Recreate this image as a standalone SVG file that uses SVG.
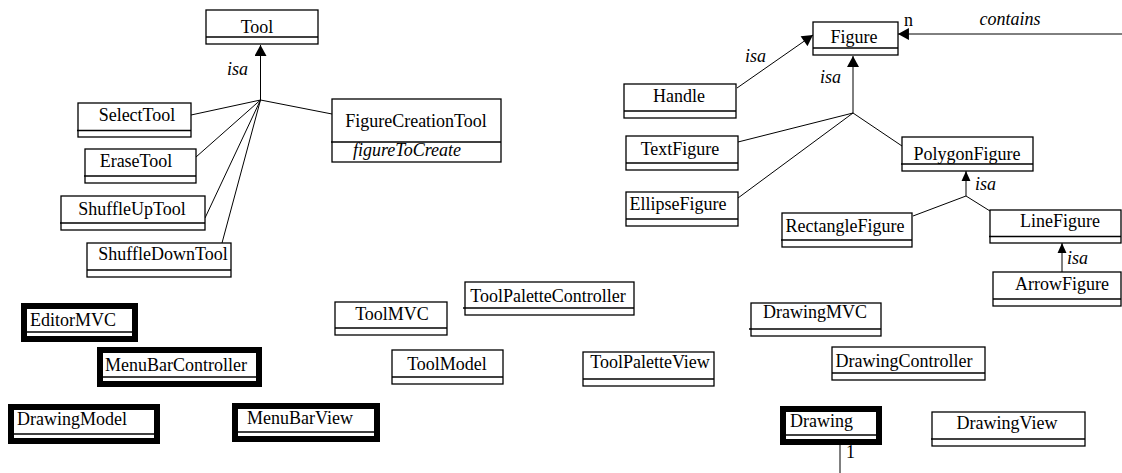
<svg xmlns="http://www.w3.org/2000/svg" width="1122" height="473" viewBox="0 0 1122 473">
  <style>
    .box { fill: #fff; stroke: #000; stroke-width: 1.3; }
    .thick { fill: #fff; stroke: #000; stroke-width: 6; }
    .div { stroke: #000; stroke-width: 1.3; }
    .lbl { font-family: "Liberation Serif", "Times New Roman", serif; font-size: 18px; fill: #000; text-anchor: middle; }
    .lft { text-anchor: start; }
    .it { font-family: "Liberation Serif", "Times New Roman", serif; font-size: 18px; font-style: italic; fill: #000; }
    .edge { stroke: #000; stroke-width: 1; fill: none; }
  </style>
  <defs>
    <marker id="head" markerUnits="userSpaceOnUse" markerWidth="12" markerHeight="12" viewBox="0 0 10 11" refX="10" refY="5.5" orient="auto">
      <path d="M0,0 L10,5.5 L0,11 Z" fill="#000"/>
    </marker>
    <marker id="headSmall" markerUnits="userSpaceOnUse" markerWidth="10" markerHeight="10" viewBox="0 0 9 8" refX="9" refY="4" orient="auto">
      <path d="M0,0 L9,4 L0,8 Z" fill="#000"/>
    </marker>
  </defs>

  <!-- connectors -->
  <g id="connectors">
    <line class="edge" x1="260.5" y1="100" x2="260.5" y2="45" marker-end="url(#head)"/>
    <line class="edge" x1="260.5" y1="100" x2="191" y2="115"/>
    <line class="edge" x1="260.5" y1="100" x2="196" y2="157"/>
    <line class="edge" x1="260.5" y1="100" x2="205" y2="218"/>
    <line class="edge" x1="260.5" y1="100" x2="222" y2="243"/>
    <line class="edge" x1="260.5" y1="100" x2="332" y2="114"/>

    <line class="edge" x1="737" y1="88" x2="813" y2="35" marker-end="url(#head)"/>
    <line class="edge" x1="853" y1="113" x2="853" y2="56" marker-end="url(#head)"/>
    <line class="edge" x1="853" y1="113" x2="738" y2="142"/>
    <line class="edge" x1="853" y1="113" x2="738" y2="198"/>
    <line class="edge" x1="853" y1="113" x2="902" y2="146"/>
    <line class="edge" x1="1122" y1="34" x2="898" y2="34" marker-end="url(#head)"/>

    <line class="edge" x1="966" y1="196" x2="966" y2="171" marker-end="url(#headSmall)"/>
    <line class="edge" x1="966" y1="196" x2="913" y2="216"/>
    <line class="edge" x1="966" y1="196" x2="990" y2="211"/>
    <line class="edge" x1="1062" y1="272" x2="1062" y2="243" marker-end="url(#headSmall)"/>

    <line class="edge" x1="840" y1="445" x2="840" y2="473"/>

    <text class="it" x="227" y="75">isa</text>
    <text class="it" x="745" y="62">isa</text>
    <text class="it" x="820" y="83">isa</text>
    <text class="it" x="975" y="190">isa</text>
    <text class="it" x="1067" y="264">isa</text>
    <text class="it" x="1010" y="25" text-anchor="middle">contains</text>
    <text class="lbl lft" x="904" y="26">n</text>
    <text class="lbl lft" x="846" y="458">1</text>
  </g>

  <!-- tool hierarchy -->
  <g id="Tool">
    <rect class="box" x="206" y="10" width="112" height="34"/>
    <line class="div" x1="206" y1="37" x2="318" y2="37"/>
    <text class="lbl" x="257" y="33">Tool</text>
  </g>
  <g id="SelectTool">
    <rect class="box" x="78" y="103" width="113" height="34"/>
    <line class="div" x1="77" y1="130.5" x2="191" y2="130.5"/>
    <text class="lbl" x="137" y="121">SelectTool</text>
  </g>
  <g id="EraseTool">
    <rect class="box" x="85" y="149" width="111" height="34"/>
    <line class="div" x1="84" y1="176" x2="196" y2="176"/>
    <text class="lbl" x="136" y="167">EraseTool</text>
  </g>
  <g id="ShuffleUpTool">
    <rect class="box" x="61" y="196" width="144" height="34"/>
    <line class="div" x1="60" y1="223" x2="205" y2="223"/>
    <text class="lbl" x="132" y="215">ShuffleUpTool</text>
  </g>
  <g id="ShuffleDownTool">
    <rect class="box" x="87" y="243" width="144" height="34"/>
    <line class="div" x1="87" y1="270" x2="231" y2="270"/>
    <text class="lbl" x="163" y="260">ShuffleDownTool</text>
  </g>
  <g id="FigureCreationTool">
    <rect class="box" x="332" y="99" width="169" height="63"/>
    <line class="div" x1="331" y1="142" x2="501" y2="142"/>
    <text class="lbl" x="416" y="127">FigureCreationTool</text>
    <text class="it" x="407" y="156" text-anchor="middle">figureToCreate</text>
  </g>

  <!-- figure hierarchy -->
  <g id="Figure">
    <rect class="box" x="813" y="22" width="85" height="33"/>
    <line class="div" x1="813" y1="48" x2="898" y2="48"/>
    <text class="lbl" x="854" y="43">Figure</text>
  </g>
  <g id="Handle">
    <rect class="box" x="624" y="84" width="112" height="34"/>
    <line class="div" x1="624" y1="111" x2="736" y2="111"/>
    <text class="lbl" x="679" y="102">Handle</text>
  </g>
  <g id="TextFigure">
    <rect class="box" x="626" y="136" width="112" height="34"/>
    <line class="div" x1="626" y1="163" x2="738" y2="163"/>
    <text class="lbl" x="680" y="155">TextFigure</text>
  </g>
  <g id="EllipseFigure">
    <rect class="box" x="626" y="192" width="112" height="34"/>
    <line class="div" x1="626" y1="219" x2="738" y2="219"/>
    <text class="lbl" x="678" y="210">EllipseFigure</text>
  </g>
  <g id="PolygonFigure">
    <rect class="box" x="902" y="137" width="131" height="34"/>
    <line class="div" x1="901" y1="164" x2="1033" y2="164"/>
    <text class="lbl" x="967" y="160">PolygonFigure</text>
  </g>
  <g id="RectangleFigure">
    <rect class="box" x="782" y="213" width="130" height="34"/>
    <line class="div" x1="781" y1="240" x2="912" y2="240"/>
    <text class="lbl" x="845" y="232">RectangleFigure</text>
  </g>
  <g id="LineFigure">
    <rect class="box" x="990" y="210" width="131" height="33"/>
    <line class="div" x1="989" y1="236.5" x2="1121" y2="236.5"/>
    <text class="lbl" x="1060" y="227">LineFigure</text>
  </g>
  <g id="ArrowFigure">
    <rect class="box" x="993" y="272" width="128" height="34"/>
    <line class="div" x1="993" y1="299" x2="1121" y2="299"/>
    <text class="lbl" x="1062" y="290">ArrowFigure</text>
  </g>

  <!-- MVC components -->
  <g id="ToolMVC">
    <rect class="box" x="335" y="302" width="112" height="33"/>
    <line class="div" x1="335" y1="328" x2="447" y2="328"/>
    <text class="lbl" x="392" y="320">ToolMVC</text>
  </g>
  <g id="ToolPaletteController">
    <rect class="box" x="465" y="282" width="169" height="33"/>
    <line class="div" x1="463" y1="308" x2="634" y2="308"/>
    <text class="lbl" x="548" y="302">ToolPaletteController</text>
  </g>
  <g id="ToolModel">
    <rect class="box" x="392" y="350" width="111" height="34"/>
    <line class="div" x1="392" y1="377" x2="503" y2="377"/>
    <text class="lbl" x="447" y="370">ToolModel</text>
  </g>
  <g id="ToolPaletteView">
    <rect class="box" x="583" y="352" width="131" height="34"/>
    <line class="div" x1="583" y1="379" x2="714" y2="379"/>
    <text class="lbl" x="650" y="368">ToolPaletteView</text>
  </g>
  <g id="DrawingMVC">
    <rect class="box" x="751" y="303" width="130" height="33"/>
    <line class="div" x1="749" y1="329" x2="881" y2="329"/>
    <text class="lbl" x="815" y="318">DrawingMVC</text>
  </g>
  <g id="DrawingController">
    <rect class="box" x="832" y="347" width="153" height="33"/>
    <line class="div" x1="832" y1="373" x2="985" y2="373"/>
    <text class="lbl" x="904" y="367">DrawingController</text>
  </g>
  <g id="DrawingView">
    <rect class="box" x="932" y="412" width="153" height="34"/>
    <line class="div" x1="931" y1="439" x2="1085" y2="439"/>
    <text class="lbl" x="1007" y="429">DrawingView</text>
  </g>

  <!-- emphasised classes -->
  <g id="EditorMVC">
    <rect class="thick" x="24" y="306" width="111" height="33"/>
    <line class="div" x1="27" y1="332" x2="132" y2="332"/>
    <text class="lbl lft" x="30" y="326">EditorMVC</text>
  </g>
  <g id="MenuBarController">
    <rect class="thick" x="100" y="350" width="159" height="34"/>
    <line class="div" x1="103" y1="377" x2="256" y2="377"/>
    <text class="lbl lft" x="105" y="371">MenuBarController</text>
  </g>
  <g id="DrawingModel">
    <rect class="thick" x="11" y="407" width="146" height="34"/>
    <line class="div" x1="14" y1="434" x2="154" y2="434"/>
    <text class="lbl lft" x="17" y="425">DrawingModel</text>
  </g>
  <g id="MenuBarView">
    <rect class="thick" x="235" y="406" width="142" height="33"/>
    <line class="div" x1="238" y1="432" x2="374" y2="432"/>
    <text class="lbl lft" x="247" y="424">MenuBarView</text>
  </g>
  <g id="Drawing">
    <rect class="thick" x="783" y="409" width="96" height="33"/>
    <line class="div" x1="786" y1="435" x2="876" y2="435"/>
    <text class="lbl lft" x="790" y="427">Drawing</text>
  </g>
</svg>
